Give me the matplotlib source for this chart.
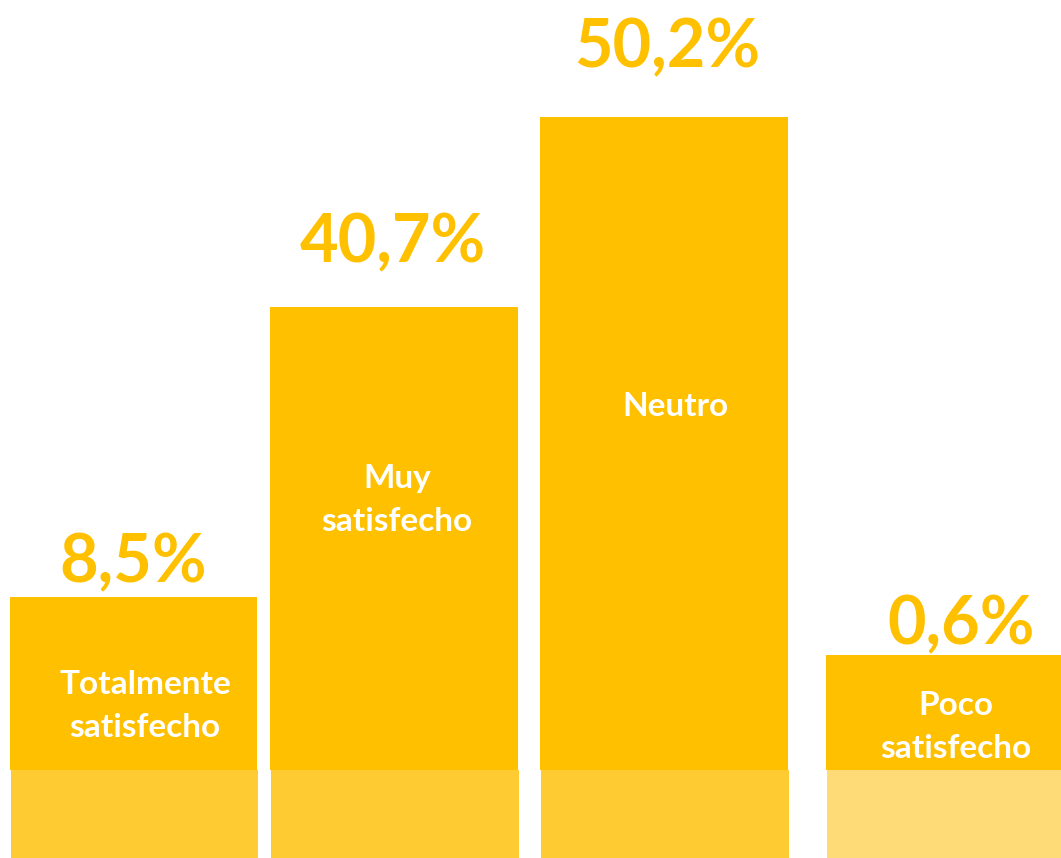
import matplotlib.pyplot as plt

plt.rcParams["font.family"] = ["Lato", "DejaVu Sans"]

categories = ["Totalmente\nsatisfecho", "Muy\nsatisfecho", "Neutro", "Poco\nsatisfecho"]
values = [8.5, 40.7, 50.2, 0.6]
# bar tops as drawn in the infographic (not proportional to the values)
bar_tops = [261, 551, 741, 203]
base_top = 88

gold = "#FFC000"
base_colors = ["#FFCB33", "#FFCB33", "#FFCB33", "#FFDB77"]

lefts = [10, 270, 540, 826]
widths = [247, 248, 248, 235]
value_xy = [(133, 563), (393, 243), (667, 48), (961, 625)]
cat_xy = [(145, 706), (397, 500), (675, 406), (956, 727)]

fig = plt.figure(figsize=(10.61, 8.58), dpi=100)
ax = fig.add_axes([0, 0, 1, 1])
ax.set_xlim(0, 1061)
ax.set_ylim(858, 0)
ax.axis("off")

for i in range(len(values)):
	ax.bar(lefts[i], bar_tops[i] - base_top, width=widths[i], bottom=858 - bar_tops[i],
	       align="edge", color=gold, linewidth=0)
	ax.bar(lefts[i] + 1, base_top, width=widths[i], bottom=858 - base_top,
	       align="edge", color=base_colors[i], linewidth=0)
	ax.text(*value_xy[i], f"{values[i]:.1f}%".replace(".", ","), color=gold,
	        fontsize=48, fontweight="bold", ha="center", va="center")
	ax.text(*cat_xy[i], categories[i], color="white", fontsize=24, fontweight="bold",
	        ha="center", va="center", linespacing=1.55)

fig.savefig("out.png", dpi=100)
